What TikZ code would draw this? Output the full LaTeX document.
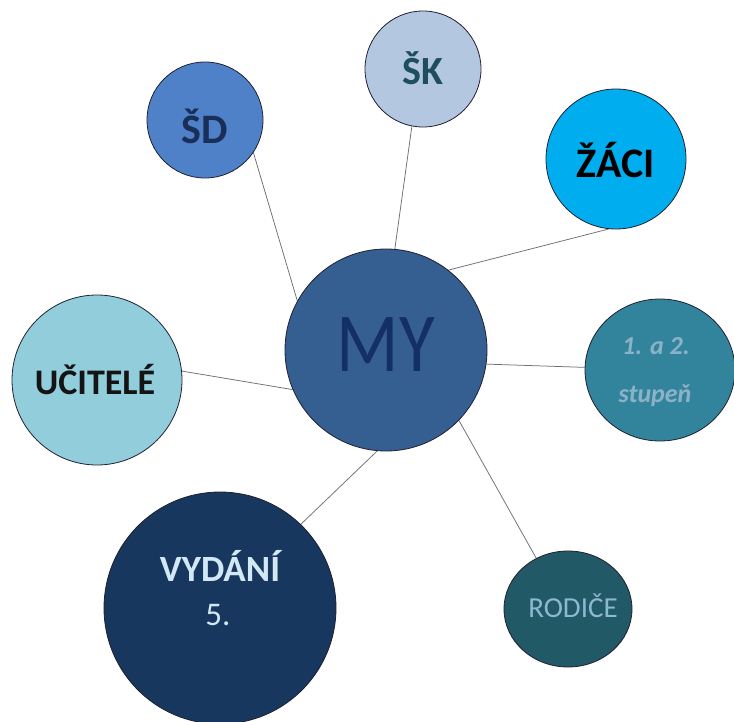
\documentclass[tikz,border=0pt]{standalone}
\usepackage{fontspec}
\setmainfont{Carlito}
\usetikzlibrary{shapes.geometric,backgrounds}
\definecolor{cMY}{HTML}{355F91}
\definecolor{cMYt}{HTML}{142F66}
\definecolor{cSD}{HTML}{4F81C8}
\definecolor{cSDt}{HTML}{1A2E5A}
\definecolor{cSK}{HTML}{B4C7E0}
\definecolor{cSKt}{HTML}{1F4E5F}
\definecolor{cZA}{HTML}{00AEEF}
\definecolor{cST}{HTML}{31849B}
\definecolor{cSTt}{HTML}{8DB2C8}
\definecolor{cUC}{HTML}{92CDDC}
\definecolor{cVY}{HTML}{17375E}
\definecolor{cVYt}{HTML}{D2E8F4}
\definecolor{cRO}{HTML}{215967}
\definecolor{cROt}{HTML}{8DB8CF}
\definecolor{cEdge}{HTML}{202030}
\definecolor{cLine}{HTML}{6A6F7A}
\tikzset{
  bubble/.style={circle, draw=cEdge, line width=0.8pt, inner sep=0pt},
  oval/.style={ellipse, draw=cEdge, line width=0.8pt, inner sep=0pt},
  link/.style={draw=cLine, line width=0.75pt},
  lbl/.style={inner sep=0pt, align=center}
}
\begin{document}
\begin{tikzpicture}[x=1pt,y=-1pt]
\useasboundingbox (0,0) rectangle (734,722);
% circles
\node[bubble, fill=cMY, minimum size=202pt] (MY) at (386,350) {};
\node[bubble, fill=cSD, minimum size=116pt] (SD) at (205,120) {};
\node[bubble, fill=cSK, minimum size=116pt] (SK) at (423,69) {};
\node[bubble, fill=cZA, minimum size=140pt] (ZA) at (616,159) {};
\node[oval, fill=cST, minimum width=150pt, minimum height=142pt] (ST) at (660,370) {};
\node[bubble, fill=cUC, minimum size=170pt] (UC) at (97,380) {};
\node[bubble, fill=cVY, minimum size=232pt] (VY) at (220,608) {};
\node[oval, fill=cRO, minimum width=128pt, minimum height=116pt] (RO) at (568,609) {};
% connectors (behind the circles)
\begin{scope}[on background layer]
\fill[white] (0,0) rectangle (734,722);
\draw[link] (MY.151) -- (SD.-34.5);
\draw[link] (MY.85) -- (SK.-101);
\draw[link] (MY.52) -- (ZA.-96.6);
\draw[link] (MY.-8.4) -- (ST.178);
\draw[link] (MY.203) -- (UC.6.7);
\draw[link] (MY.265) -- (VY.46);
\draw[link] (MY.-44) -- (RO.122);
\end{scope}
% labels
\node[lbl, text=cMYt, font=\fontsize{84}{84}\selectfont] (tMY) at (386,345) {\scalebox{0.87}[1]{MY}};
\node[lbl, text=cSDt, font=\fontsize{42}{42}\selectfont\bfseries] (tSD) at (205,126) {ŠD};
\node[lbl, text=cSKt, font=\fontsize{40}{40}\selectfont\bfseries] (tSK) at (423,68) {ŠK};
\node[lbl, text=black, font=\fontsize{42}{42}\selectfont\bfseries] (tZA) at (616,160) {ŽÁCI};
\node[lbl, text=black!92, font=\fontsize{36}{36}\selectfont\bfseries] (tUC) at (95,380) {UČITELÉ};
\node[lbl, text=cSTt, font=\fontsize{26}{26}\selectfont\bfseries\itshape] (tST1) at (656,346) {1. a 2.};
\node[lbl, text=cSTt, font=\fontsize{26}{26}\selectfont\bfseries\itshape] (tST2) at (655,396) {stupeň};
\node[lbl, text=cVYt, font=\fontsize{37}{37}\selectfont\bfseries] (tVY1) at (220,566) {VYDÁNÍ};
\node[lbl, text=cVYt, font=\fontsize{33}{33}\selectfont] (tVY2) at (218,615) {5.};
\node[lbl, text=cROt, font=\fontsize{29}{29}\selectfont] (tRO) at (573,606) {RODIČE};
\end{tikzpicture}
\end{document}
